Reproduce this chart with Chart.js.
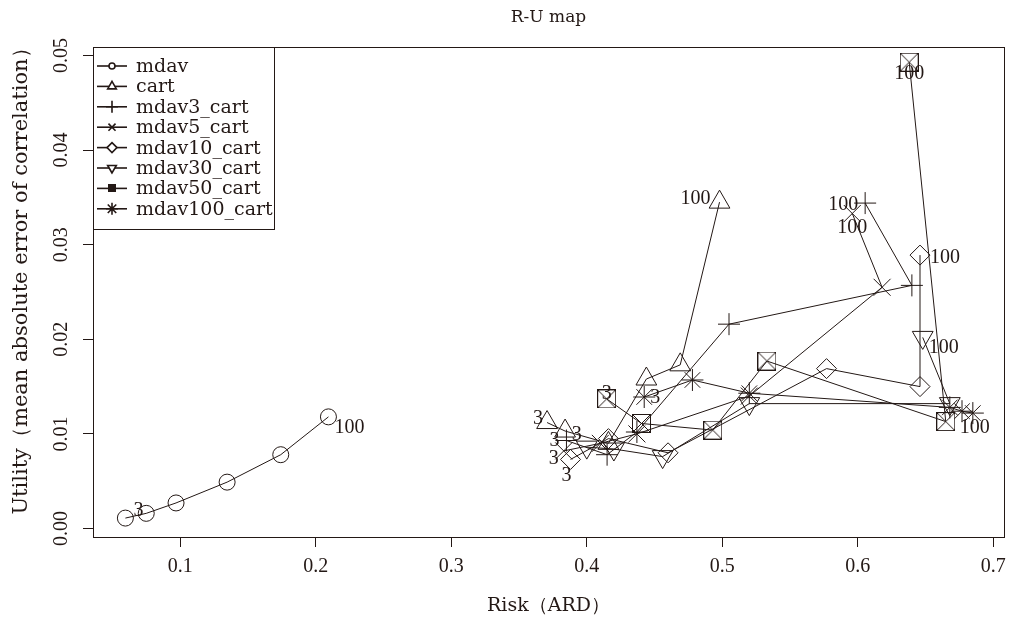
<!DOCTYPE html>
<html>
<head>
<meta charset="utf-8">
<script src="https://cdn.jsdelivr.net/npm/chart.js@4.4.1/dist/chart.umd.min.js"></script>
<style>
  html, body { margin: 0; padding: 0; background: #fff; }
  #wrap { width: 1017px; height: 625px; }
</style>
</head>
<body>
<div id="wrap"><canvas id="ruMap" width="1017" height="625"></canvas></div>
<script>
// series (x = Risk ARD, y = utility MAE of correlation)
const seriesNames = ['mdav', 'cart', 'mdav3_cart', 'mdav5_cart', 'mdav10_cart', 'mdav30_cart', 'mdav50_cart', 'mdav100_cart'];

const mdavX = [0.0594, 0.0748, 0.0968, 0.1345, 0.1741, 0.2093];
const mdavY = [0.0011, 0.0016, 0.0027, 0.0049, 0.0078, 0.0118];

const cartX = [0.3707, 0.384, 0.416, 0.444, 0.469, 0.498];
const cartY = [0.0112, 0.0103, 0.0090, 0.0158, 0.0173, 0.0345];

const mdav3X = [0.385, 0.415, 0.437, 0.505, 0.640, 0.6055];
const mdav3Y = [0.0093, 0.0078, 0.0102, 0.0216, 0.0257, 0.0344];

const mdav5X = [0.383, 0.410, 0.437, 0.520, 0.618, 0.596];
const mdav5Y = [0.0082, 0.0090, 0.0100, 0.0140, 0.0255, 0.0333];

const mdav10X = [0.388, 0.416, 0.460, 0.577, 0.646, 0.646];
const mdav10Y = [0.0073, 0.0095, 0.0080, 0.0169, 0.0150, 0.0289];

const mdav30X = [0.400, 0.420, 0.456, 0.520, 0.668, 0.648];
const mdav30Y = [0.0086, 0.0084, 0.0076, 0.0132, 0.0132, 0.0202];

const mdav50X = [0.4147, 0.4404, 0.493, 0.533, 0.665, 0.638];
const mdav50Y = [0.0137, 0.0111, 0.0104, 0.0177, 0.0113, 0.0493];

const mdav100X = [0.4424, 0.478, 0.520, 0.668, 0.677, 0.685];
const mdav100Y = [0.0139, 0.0157, 0.0143, 0.0128, 0.0124, 0.0122];

const xTicks = [0.1, 0.2, 0.3, 0.4, 0.5, 0.6, 0.7];
const yTicks = [0.00, 0.01, 0.02, 0.03, 0.04, 0.05];

const ink = '#231815';
const wordFont = '"DejaVu Serif", "Liberation Serif", serif';
const numFont = '"Liberation Serif", "DejaVu Serif", serif';

function boxX(size, filled) {
    const c = document.createElement('canvas');
    c.width = size; c.height = size;
    const g = c.getContext('2d');
    g.strokeStyle = ink; g.fillStyle = ink; g.lineWidth = 1;
    if (filled) {
        g.fillRect(0, 0, size, size);
        return c;
    }
    g.strokeRect(0.5, 0.5, size - 1, size - 1);
    g.beginPath();
    g.moveTo(0.5, 0.5); g.lineTo(size - 0.5, size - 0.5);
    g.moveTo(size - 0.5, 0.5); g.lineTo(0.5, size - 0.5);
    g.stroke();
    return c;
}

const markers = [
    { style: 'circle', radius: 8, rotation: 0 },
    { style: 'triangle', radius: 12, rotation: 0 },
    { style: 'cross', radius: 11, rotation: 0 },
    { style: 'crossRot', radius: 12, rotation: 0 },
    { style: 'rectRot', radius: 10, rotation: 0 },
    { style: 'triangle', radius: 12, rotation: 180 },
    { style: boxX(19, false), radius: 10, rotation: 0 },
    { style: 'star', radius: 11, rotation: 0 }
];
const legendMarkers = [
    { style: 'circle', radius: 3, rotation: 0 },
    { style: 'triangle', radius: 5, rotation: 0 },
    { style: 'cross', radius: 6, rotation: 0 },
    { style: 'crossRot', radius: 5, rotation: 0 },
    { style: 'rectRot', radius: 5, rotation: 0 },
    { style: 'triangle', radius: 5, rotation: 180 },
    { style: boxX(8, true), radius: 4, rotation: 0 },
    { style: 'star', radius: 6, rotation: 0 }
];

// "3" / "100" tags: [series, point index, text, dx, dy]
const pointTags = [
    [0, 0, '3', 13, -7], [0, 5, '100', 21, 11],
    [1, 0, '3', -9, -4], [1, 5, '100', -24, -3],
    [2, 0, '3', -12, 0], [2, 5, '100', -22, 2],
    [3, 0, '3', -10, 8], [3, 5, '100', 0, 14],
    [4, 0, '3', -4, 16], [4, 5, '100', 25, 3],
    [5, 0, '3', -10, -12], [5, 5, '100', 21, 10],
    [6, 0, '3', 0, -5], [6, 5, '100', 0, 12],
    [7, 0, '3', 11, 1], [7, 5, '100', 2, 15]
];

const allX = [mdavX, cartX, mdav3X, mdav5X, mdav10X, mdav30X, mdav50X, mdav100X];
const allY = [mdavY, cartY, mdav3Y, mdav5Y, mdav10Y, mdav30Y, mdav50Y, mdav100Y];

const datasets = seriesNames.map(function(name, i) {
    return {
        label: name,
        data: allX[i].map(function(x, j) { return { x: x, y: allY[i][j] }; }),
        showLine: true,
        borderColor: ink,
        borderWidth: 1,
        backgroundColor: 'rgba(0,0,0,0)',
        pointStyle: markers[i].style,
        pointRadius: markers[i].radius,
        pointRotation: markers[i].rotation,
        pointBorderColor: ink,
        pointBorderWidth: 1,
        pointBackgroundColor: 'rgba(0,0,0,0)',
        tension: 0
    };
});

const decorPlugin = {
    id: 'decor',
    afterDraw: function(chart) {
        const ctx = chart.ctx;
        const a = chart.chartArea;
        const ys = chart.scales.y;
        ctx.save();
        ctx.strokeStyle = ink;
        ctx.lineWidth = 1;
        ctx.strokeRect(Math.round(a.left) + 0.5, Math.round(a.top) + 0.5, Math.round(a.right - a.left), Math.round(a.bottom - a.top));

        ctx.fillStyle = ink;
        ctx.font = '20px ' + numFont;
        // y tick labels, rotated like R's las=0
        ys.ticks.forEach(function(t) {
            const py = ys.getPixelForValue(t.value);
            ctx.save();
            ctx.translate(67, py);
            ctx.rotate(-Math.PI / 2);
            ctx.textAlign = 'center';
            ctx.textBaseline = 'alphabetic';
            ctx.fillText(t.value.toFixed(2), 0, 0);
            ctx.restore();
        });

        // axis titles and main title
        ctx.textAlign = 'center';
        ctx.textBaseline = 'middle';
        ctx.font = '19px ' + wordFont;
        ctx.fillText('Risk（ARD）', (a.left + a.right) / 2, 606);
        ctx.save();
        ctx.font = '21px ' + wordFont;
        ctx.translate(22, 276);
        ctx.rotate(-Math.PI / 2);
        ctx.fillText('Utility（mean absolute error of correlation）', 0, 0);
        ctx.restore();
        ctx.font = '17px ' + wordFont;
        ctx.fillText('R-U map', (a.left + a.right) / 2, 18);

        // point tags
        ctx.font = '20px ' + numFont;
        pointTags.forEach(function(tag) {
            const el = chart.getDatasetMeta(tag[0]).data[tag[1]];
            ctx.fillText(tag[2], el.x + tag[3], el.y + tag[4]);
        });

        // legend box in the top-left corner of the plot
        const lx = a.left, ly = a.top;
        const rowH = 20.4;
        ctx.strokeRect(Math.round(lx) + 0.5, Math.round(ly) + 0.5, 181, 182);
        ctx.textAlign = 'left';
        ctx.font = '19px ' + wordFont;
        chart.data.datasets.forEach(function(ds, i) {
            const cy = ly + 19 + i * rowH;
            ctx.lineWidth = 1.6;
            ctx.beginPath();
            ctx.moveTo(lx + 4, cy);
            ctx.lineTo(lx + 34, cy);
            ctx.stroke();
            ctx.fillStyle = '#fff';
            Chart.helpers.drawPoint(ctx, {
                pointStyle: legendMarkers[i].style,
                radius: legendMarkers[i].radius,
                rotation: legendMarkers[i].rotation,
                borderWidth: 1.6
            }, lx + 19, cy);
            ctx.fillStyle = ink;
            ctx.fillText(ds.label, lx + 43, cy + 1);
        });
        ctx.restore();
    }
};

const chart = new Chart(document.getElementById('ruMap').getContext('2d'), {
    type: 'scatter',
    data: { datasets: datasets },
    options: {
        responsive: false,
        animation: false,
        layout: { padding: { top: 47, right: 7, left: 0, bottom: 0 } },
        plugins: { legend: { display: false }, tooltip: { enabled: false }, title: { display: false } },
        scales: {
            x: {
                type: 'linear',
                min: 0.0355,
                max: 0.708,
                afterBuildTicks: function(s) { s.ticks = xTicks.map(function(v) { return { value: v }; }); },
                afterFit: function(s) { s.height = 88; },
                grid: { drawOnChartArea: false, drawTicks: true, tickLength: 10, color: ink },
                border: { display: true, color: ink },
                ticks: {
                    color: ink,
                    padding: 8,
                    maxRotation: 0,
                    font: { family: numFont, size: 20 },
                    callback: function(v) { return v.toFixed(1); }
                }
            },
            y: {
                type: 'linear',
                min: -0.0009,
                max: 0.0509,
                afterBuildTicks: function(s) { s.ticks = yTicks.map(function(v) { return { value: v }; }); },
                afterFit: function(s) { s.width = 93; },
                grid: { drawOnChartArea: false, drawTicks: true, tickLength: 10, color: ink },
                border: { display: true, color: ink },
                ticks: { display: false }
            }
        }
    },
    plugins: [decorPlugin]
});
</script>
</body>
</html>
